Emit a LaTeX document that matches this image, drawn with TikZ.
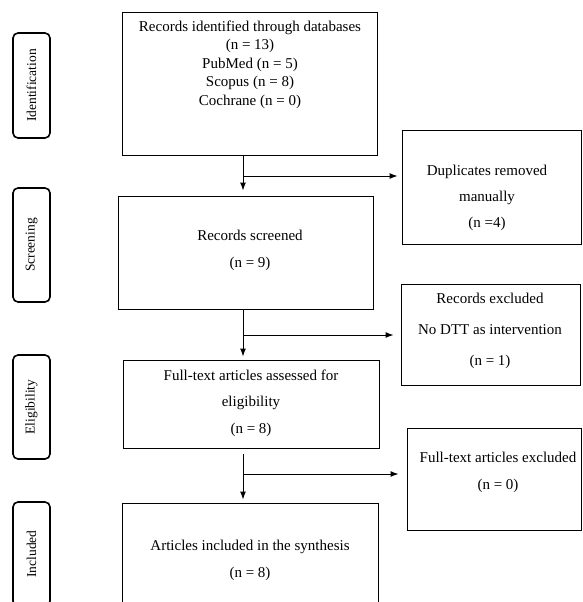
\documentclass[tikz,border=0pt]{standalone}
\usepackage{fontspec}
\setmainfont{Liberation Serif}
\usetikzlibrary{arrows.meta}

\tikzset{
  box/.style={draw, line width=1pt, inner sep=0pt},
  txt/.style={align=center, inner sep=0pt, font=\fontsize{15}{27}\selectfont},
  stage/.style={draw, line width=1.6pt, rounded corners=5pt, rotate=90,
    minimum height=37pt, inner sep=0pt, font=\fontsize{13.5}{16}\selectfont},
  arr/.style={line width=1pt, -{Latex[length=8pt,width=6pt]}},
}

\begin{document}
\begin{tikzpicture}[x=1pt, y=-1pt]
    \useasboundingbox (0,0) rectangle (582,602);

    % stages on the left
    \node[stage, minimum width=105pt] (sident) at (31.5,85.5) {Identification};
    \node[stage, minimum width=114pt] (sscreen) at (31.5,245) {Screening};
    \node[stage, minimum width=104pt] (selig) at (31.5,407) {Eligibility};
    \node[stage, minimum width=104pt] (sincl) at (31.5,554) {Included};

    % main column
    \node[box, minimum width=255pt, minimum height=142pt] (ident) at (249.5,84) {};
    \node[txt, font=\fontsize{15}{18.5}\selectfont] (identtxt) at (250,64.5)
      {Records identified through databases\\(n = 13)\\PubMed (n = 5)\\Scopus (n = 8)\\Cochrane (n = 0)};

    \node[box, minimum width=255pt, minimum height=113pt] (screen) at (245.5,252.5) {};
    \node[txt] (screentxt) at (250,250) {Records screened\\(n = 9)};

    \node[box, minimum width=256pt, minimum height=88pt] (elig) at (251,404) {};
    \node[txt, font=\fontsize{15}{26.5}\selectfont] (eligtxt) at (251,403)
      {Full-text articles assessed for\\eligibility\\(n = 8)};

    \node[box, minimum width=256pt, minimum height=130pt] (incl) at (250,568) {};
    \node[txt] (incltxt) at (250,560) {Articles included in the synthesis\\(n = 8)};

    % exclusions on the right
    \node[box, minimum width=179pt, minimum height=114pt] (dup) at (491.5,187) {};
    \node[txt, font=\fontsize{15}{26}\selectfont] (duptxt) at (487,197.5)
      {Duplicates removed\\manually\\(n =4)};

    \node[box, minimum width=179pt, minimum height=101pt] (rex) at (490.5,334.5) {};
    \node[txt, font=\fontsize{15}{31}\selectfont] (rextxt) at (490,330.5)
      {Records excluded\\No DTT as intervention\\(n = 1)};

    \node[box, minimum width=174pt, minimum height=102pt] (fex) at (494,479) {};
    \node[txt] (fextxt) at (498,472) {Full-text articles excluded\\(n = 0)};

    % arrows
    \coordinate (b1) at (243,176);
    \coordinate (b2) at (243,335);
    \coordinate (b3) at (243,474);

    \draw[arr, shorten >=5pt] (ident.south -| b1) -- (screen.north -| b1);
    \draw[arr, shorten >=4pt] (b1) -- (dup.west |- b1);

    \draw[arr, shorten >=3pt] (screen.south -| b2) -- (elig.north -| b2);
    \draw[arr, shorten >=7pt] (b2) -- (rex.west |- b2);

    \draw[arr, shorten <=5pt, shorten >=3pt] (elig.south -| b3) -- (incl.north -| b3);
    \draw[arr, shorten >=8pt] (b3) -- (fex.west |- b3);
\end{tikzpicture}
\end{document}
